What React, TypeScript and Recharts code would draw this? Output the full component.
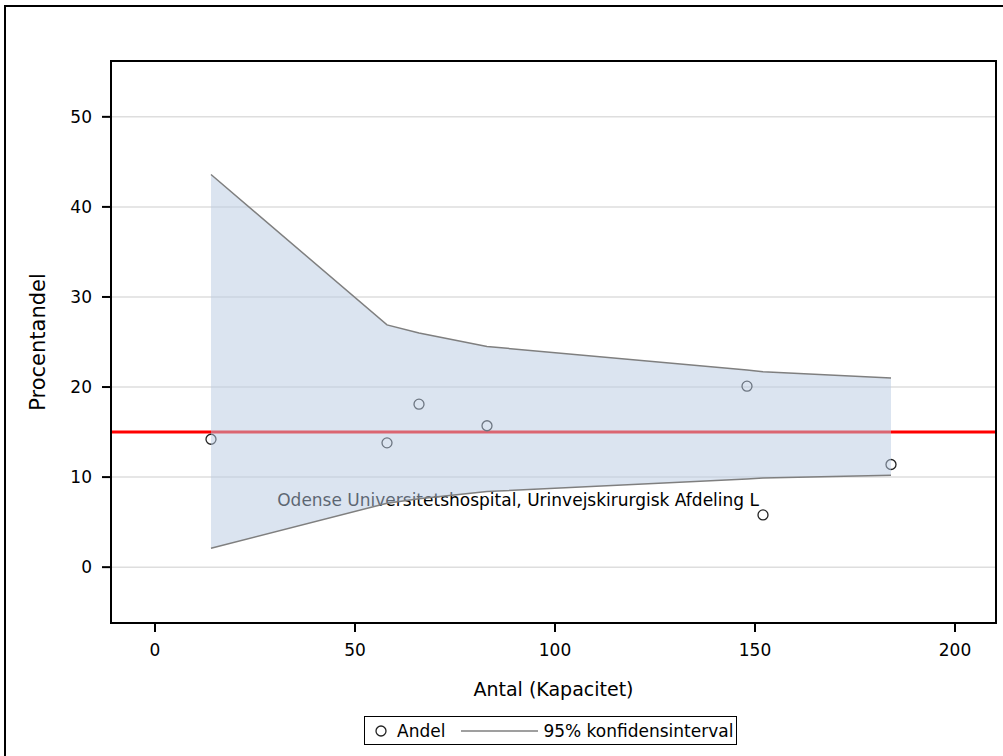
import {
  Area,
  CartesianGrid,
  ComposedChart,
  Label,
  ReferenceArea,
  ReferenceLine,
  Scatter,
  XAxis,
  YAxis,
} from "recharts";

const xTicks = [0, 50, 100, 150, 200];
const yTicks = [0, 10, 20, 30, 40, 50];

// antal (kapacitet) per afdeling og andel i procent
const antal = [14, 58, 66, 83, 148, 152, 184];
const andel = [14.2, 13.8, 18.1, 15.7, 20.1, 5.8, 11.4];
const pointLabels = ["", "", "", "", "", "Odense Universitetshospital, Urinvejskirurgisk Afdeling L", ""];

// 95% konfidensinterval omkring landsgennemsnittet
const upper = [43.6, 26.9, 26.0, 24.5, 21.9, 21.7, 21.0];
const lower = [2.1, 7.1, 7.6, 8.4, 9.8, 9.9, 10.2];
const target = 15;

const xDomain = [-11, 210.25];
const yDomain = [-6.2, 56.2];

const FONT = "'DejaVu Sans', sans-serif";

const points = antal.map((x, i) => ({ x, y: andel[i], label: pointLabels[i] }));
const band = antal.map((x, i) => ({ x, band: [lower[i], upper[i]] }));

function PointShape(props: any) {
  const { cx, cy, payload } = props;
  return (
    <g>
      <circle cx={cx} cy={cy} r={5} fill="none" stroke="#222" strokeWidth={1.3} />
      {payload.label ? (
        <text
          x={cx - 4}
          y={cy - 15}
          textAnchor="end"
          dominantBaseline="central"
          fontSize={17}
          fontFamily={FONT}
          fill="#000"
        >
          {payload.label}
        </text>
      ) : null}
    </g>
  );
}

function FunnelLegend() {
  return (
    <div
      style={{
        position: "absolute",
        left: 364,
        top: 716,
        width: 373,
        height: 29,
        boxSizing: "border-box",
        border: "1.5px solid #000",
        display: "flex",
        alignItems: "center",
        fontFamily: FONT,
        fontSize: 17,
        color: "#000",
      }}
    >
      <svg width={32} height={20}>
        <circle cx={16} cy={10} r={5} fill="none" stroke="#222" strokeWidth={1.3} />
      </svg>
      <span>Andel</span>
      <svg width={98} height={20}>
        <line x1={16} y1={10} x2={93} y2={10} stroke="#7f7f7f" strokeWidth={1.5} />
      </svg>
      <span>95% konfidensinterval</span>
    </div>
  );
}

export default function App() {
  return (
    <div
      style={{
        position: "absolute",
        left: 0,
        top: 0,
        width: 1003,
        height: 756,
        overflow: "hidden",
        background: "#fff",
      }}
    >
      <div
        style={{
          position: "absolute",
          left: 4,
          top: 5,
          width: 1020,
          height: 800,
          border: "2px solid #000",
          boxSizing: "border-box",
        }}
      />
      <div style={{ position: "absolute", left: 0, top: 0 }}>
        <ComposedChart
          width={1003}
          height={756}
          margin={{ top: 61, right: 7, bottom: 53, left: 31 }}
          style={{ fontFamily: FONT }}
        >
          <CartesianGrid vertical={false} stroke="#dedede" strokeWidth={1.5} />
          <XAxis
            dataKey="x"
            type="number"
            domain={xDomain}
            ticks={xTicks}
            allowDataOverflow
            height={80}
            tickSize={9}
            tickMargin={12}
            tick={{ fontSize: 17, fill: "#000", fontFamily: FONT }}
            axisLine={{ stroke: "#000", strokeWidth: 2 }}
            tickLine={{ stroke: "#000", strokeWidth: 2 }}
          >
            <Label
              value="Antal (Kapacitet)"
              position="insideBottom"
              offset={7}
              style={{ fontSize: 19, fill: "#000", fontFamily: FONT }}
            />
          </XAxis>
          <YAxis
            type="number"
            domain={yDomain}
            ticks={yTicks}
            allowDataOverflow
            width={80}
            tickSize={9}
            tickMargin={10}
            tick={{ fontSize: 17, fill: "#000", fontFamily: FONT }}
            axisLine={{ stroke: "#000", strokeWidth: 2 }}
            tickLine={{ stroke: "#000", strokeWidth: 2 }}
          >
            <Label
              value="Procentandel"
              angle={-90}
              position="insideLeft"
              offset={7}
              style={{ fontSize: 21, fill: "#000", fontFamily: FONT, textAnchor: "middle" }}
            />
          </YAxis>
          <ReferenceLine y={target} stroke="#ff0000" strokeWidth={3} zIndex={10} />
          <Scatter
            data={points}
            dataKey="y"
            shape={PointShape}
            isAnimationActive={false}
            zIndex={50}
          />
          <Area
            data={band}
            dataKey="band"
            type="linear"
            fill="#b7c9e1"
            fillOpacity={0.5}
            stroke="#7f7f7f"
            strokeWidth={1.5}
            dot={false}
            activeDot={false}
            isAnimationActive={false}
            zIndex={100}
          />
          <ReferenceArea
            x1={xDomain[0]}
            x2={xDomain[1]}
            y1={yDomain[0]}
            y2={yDomain[1]}
            fill="none"
            stroke="#000"
            strokeWidth={2}
            zIndex={200}
          />
        </ComposedChart>
      </div>
      <FunnelLegend />
    </div>
  );
}
